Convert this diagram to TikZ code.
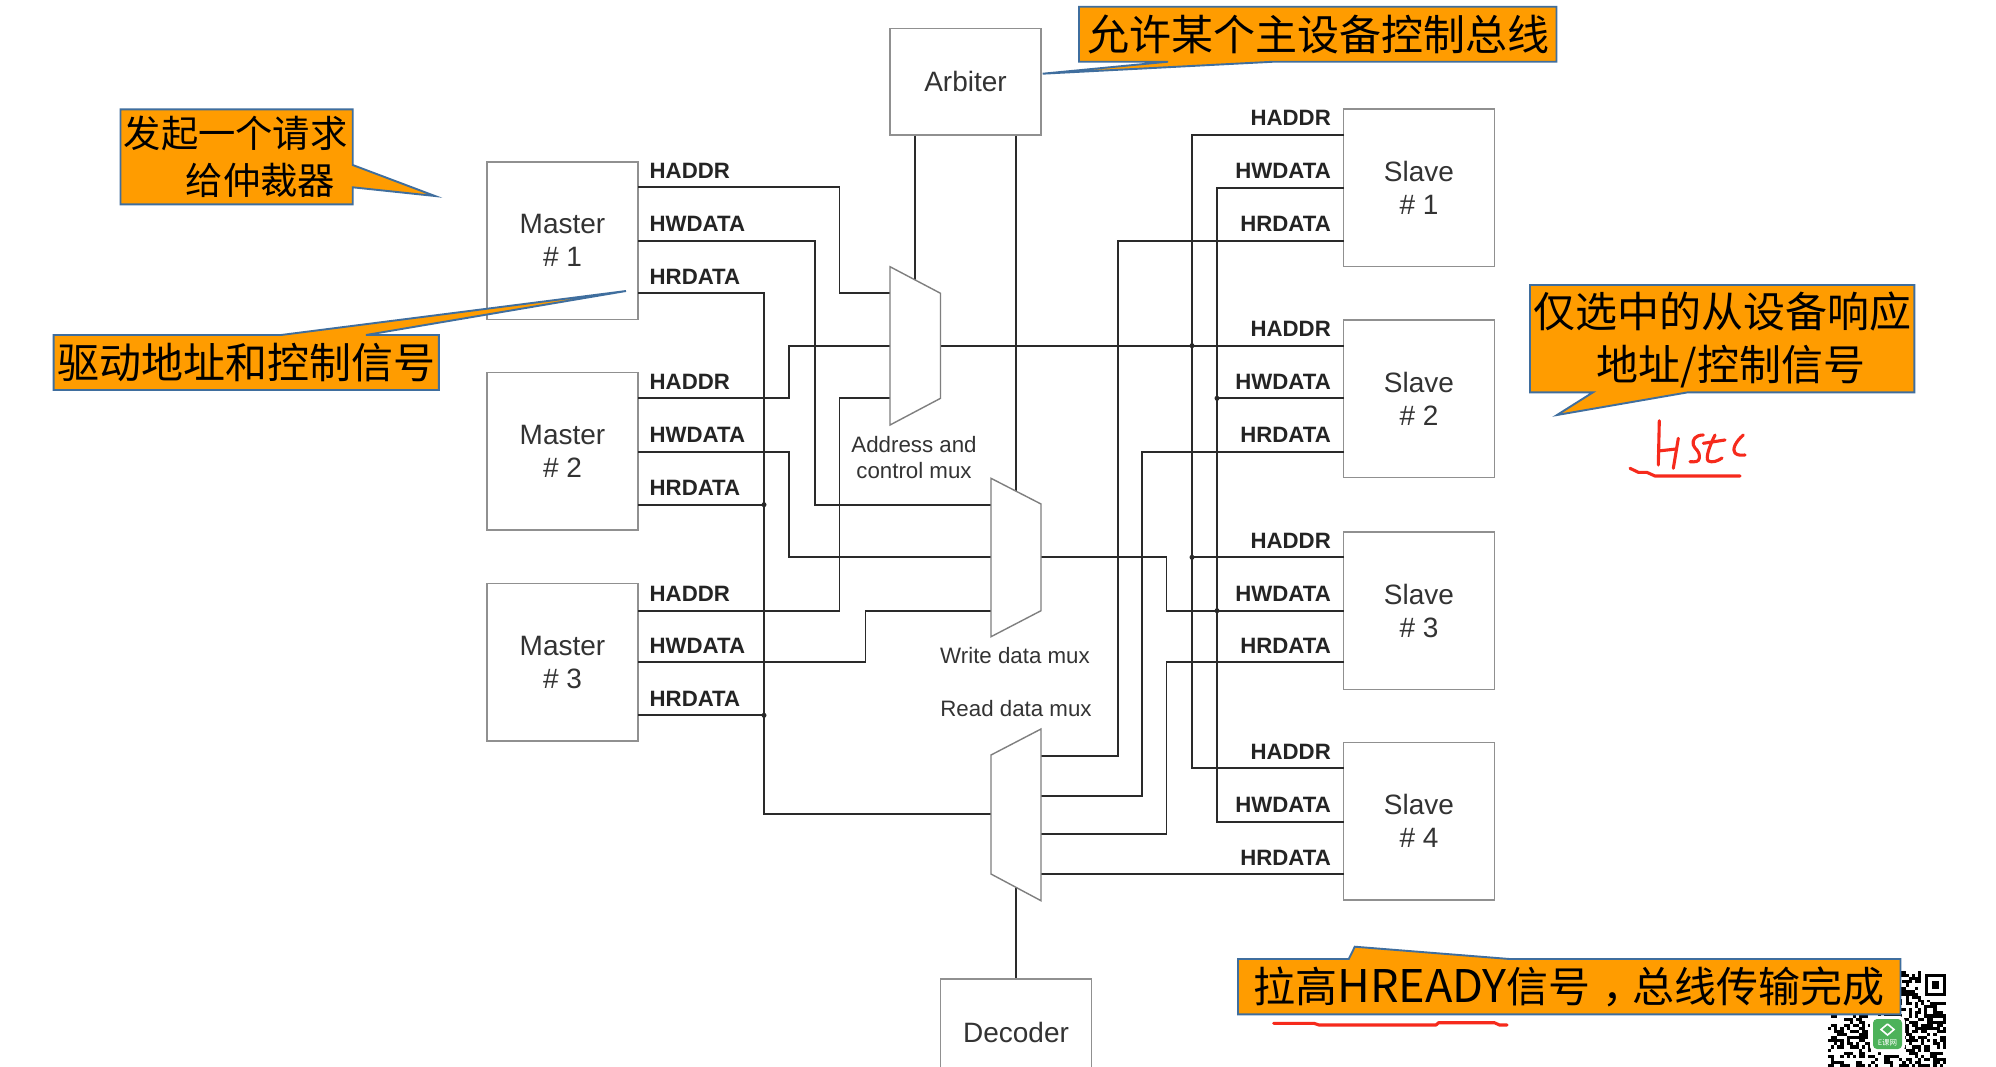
\documentclass[tikz,border=0pt]{standalone}
\usepackage{fontspec}
\setmainfont{Liberation Sans}
\newfontfamily\cjk{Noto Sans CJK SC}
\definecolor{boxgray}{HTML}{909090}
\definecolor{wirecol}{HTML}{2A2A2A}
\definecolor{muxgray}{HTML}{7F7F7F}
\definecolor{txtgray}{HTML}{333333}
\definecolor{calloutfill}{HTML}{FF9C00}
\definecolor{calloutline}{HTML}{3F6E9E}
\definecolor{inkred}{HTML}{F62A1C}
\definecolor{logogreen}{HTML}{4DB25A}
\tikzset{
  unitbox/.style={draw=boxgray,line width=1.6pt,fill=white,inner sep=0pt,align=center,text=txtgray,
    font=\fontsize{28}{33}\selectfont},
  masterbox/.style={unitbox,minimum width=151pt,minimum height=157.6pt},
  wire/.style={draw=wirecol,line width=1.7pt},
  muxshape/.style={draw=muxgray,line width=1.4pt,fill=white,line join=miter},
  sig/.style={inner sep=0pt,font=\fontsize{22.2}{24}\selectfont\bfseries,text=txtgray!70!black},
  siglabl/.style={sig,anchor=base west},
  siglabr/.style={sig,anchor=base east},
  muxtext/.style={inner sep=0pt,anchor=base,font=\fontsize{22.3}{26}\selectfont,text=txtgray},
  junction/.style={circle,fill=wirecol,inner sep=0pt,minimum size=5pt},
  calloutshape/.style={draw=calloutline,line width=1.9pt,fill=calloutfill,line join=miter},
  callouttext/.style={inner sep=0pt,align=left,text=black},
  ink/.style={draw=inkred,line width=3.1pt,line cap=round,line join=round},
}
\begin{document}
\begin{tikzpicture}[x=1pt,y=-1pt]
\useasboundingbox (0,0) rectangle (1996,1066);
\fill[white] (0,0) rectangle (1996,1066);
\begin{scope}
\clip (0,0) rectangle (1996,1066);

% QR code, under the last callout
\pgfmathsetseed{7}
\foreach \i in {0,...,37}{
  \foreach \j in {0,...,30}{
    \pgfmathtruncatemacro\qrbit{rnd*2}
    \ifnum\qrbit=1
      \fill[black] ({1828+\i*3.1},{971+\j*3.1}) rectangle +(3.1,3.1);
    \fi
  }
}
\fill[white] (1921,970) rectangle (1947,1000);
\fill[black] (1925,974) rectangle (1946,996);
\fill[white] (1928,977) rectangle (1943,993);
\fill[black] (1931.7,980.7) rectangle (1939.3,988.7);
\fill[white,rounded corners=5pt] (1870,1016) rectangle (1905,1052);
\fill[logogreen,rounded corners=4pt] (1873,1019) rectangle (1902,1049);
\draw[white,line width=1.6pt] (1887.5,1024) -- (1894,1029.5) -- (1887.5,1035) -- (1881,1029.5) -- (1887.5,1024);
\node (logotext) at (1887.5,1042.5) [inner sep=0pt,text=white,font=\cjk\fontsize{7.5}{8}\selectfont] {E课网};

% Boxes
\node[masterbox] (m1) at (562.5,240.5) {Master\\\# 1};
\node[masterbox] (m2) at (562.5,451.2) {Master\\\# 2};
\node[masterbox] (m3) at (562.5,662.4) {Master\\\# 3};
\node[masterbox] (s1) at (1419,187.5) {Slave\\\# 1};
\node[masterbox] (s2) at (1419,398.8) {Slave\\\# 2};
\node[masterbox] (s3) at (1419,610.8) {Slave\\\# 3};
\node[masterbox] (s4) at (1419,821.2) {Slave\\\# 4};
\node[unitbox,minimum width=151pt,minimum height=106.4pt] (arb) at (965.5,81.5) {Arbiter};
\node[unitbox,minimum width=151pt,minimum height=106pt] (dec) at (1016,1032) {Decoder};

% Ports
\coordinate (m1a) at (638,187.3);  \coordinate (m1w) at (638,240.7);  \coordinate (m1r) at (638,293.3);
\coordinate (m2a) at (638,398.3);  \coordinate (m2w) at (638,451.7);  \coordinate (m2r) at (638,504.7);
\coordinate (m3a) at (638,610.7);  \coordinate (m3w) at (638,662.3);  \coordinate (m3r) at (638,715.3);
\coordinate (s1a) at (1344,134.7); \coordinate (s1w) at (1344,187.7); \coordinate (s1r) at (1344,240.7);
\coordinate (s2a) at (1344,345.7); \coordinate (s2w) at (1344,398.3); \coordinate (s2r) at (1344,451.7);
\coordinate (s3a) at (1344,557.3); \coordinate (s3w) at (1344,610.7); \coordinate (s3r) at (1344,662.3);
\coordinate (s4a) at (1344,768.3); \coordinate (s4w) at (1344,821.7); \coordinate (s4r) at (1344,874);
\coordinate (ax1) at (892,293.3);  \coordinate (ax2) at (892,345.7);  \coordinate (ax3) at (892,398.3);
\coordinate (axo) at (940,345.7);
\coordinate (wx1) at (993,504.7);  \coordinate (wx2) at (993,557.3);  \coordinate (wx3) at (993,610.7);
\coordinate (wxo) at (1040,557.3);
\coordinate (rx)  at (993,814);
\coordinate (ro1) at (1040,755.7); \coordinate (ro2) at (1040,795.7);
\coordinate (ro3) at (1040,834.3); \coordinate (ro4) at (1040,874);
\coordinate (arbsel) at (914.7,290);
\coordinate (arbwr)  at (1016,500);
\coordinate (decsel) at (1016,870);

% Vertical runs
\coordinate (vRD)  at (764,0);
\coordinate (vW2)  at (789,0);
\coordinate (vW1)  at (815,0);
\coordinate (vA1)  at (839.5,0);
\coordinate (vW3)  at (865.4,0);
\coordinate (vS1)  at (1118,0);
\coordinate (vS2)  at (1142,0);
\coordinate (vS3)  at (1166.4,0);
\coordinate (vHA)  at (1192,0);
\coordinate (vHW)  at (1217,0);

% Wires
\draw[wire] (m1a) -- (m1a -| vA1) -- (ax1 -| vA1) -- (ax1);
\draw[wire] (m2a) -- (m2a -| vW2) -- (ax2 -| vW2) -- (ax2);
\draw[wire] (m3a) -- (m3a -| vA1) -- (ax3 -| vA1) -- (ax3);
\draw[wire] (m1w) -- (m1w -| vW1) -- (wx1 -| vW1) -- (wx1);
\draw[wire] (m2w) -- (m2w -| vW2) -- (wx2 -| vW2) -- (wx2);
\draw[wire] (m3w) -- (m3w -| vW3) -- (wx3 -| vW3) -- (wx3);
\draw[wire] (m1r) -- (m1r -| vRD) -- (rx -| vRD) -- (rx);
\draw[wire] (m2r) -- (m2r -| vRD);
\draw[wire] (m3r) -- (m3r -| vRD);
\draw[wire] (axo) -- (s2a);
\draw[wire] (s1a) -- (s1a -| vHA) -- (s4a -| vHA) -- (s4a);
\draw[wire] (s3a) -- (s3a -| vHA);
\draw[wire] (s1w) -- (s1w -| vHW) -- (s4w -| vHW) -- (s4w);
\draw[wire] (s2w) -- (s2w -| vHW);
\draw[wire] (wxo) -- (wxo -| vS3) -- (s3w -| vS3) -- (s3w);
\draw[wire] (s1r) -- (s1r -| vS1) -- (ro1 -| vS1) -- (ro1);
\draw[wire] (s2r) -- (s2r -| vS2) -- (ro2 -| vS2) -- (ro2);
\draw[wire] (s3r) -- (s3r -| vS3) -- (ro3 -| vS3) -- (ro3);
\draw[wire] (s4r) -- (ro4);
\draw[wire] (arb.south -| arbsel) -- (arbsel);
\draw[wire] (arb.south -| arbwr) -- (arbwr);
\draw[wire] (decsel) -- (dec.north);

% Junctions
\node[junction] (j1) at (m2r -| vRD) {};
\node[junction] (j2) at (m3r -| vRD) {};
\node[junction] (j3) at (s2a -| vHA) {};
\node[junction] (j4) at (s3a -| vHA) {};
\node[junction] (j5) at (s2w -| vHW) {};
\node[junction] (j6) at (s3w -| vHW) {};

% Multiplexers
\draw[muxshape] (890,266.7) -- (940.5,293.3) -- (940.5,398.3) -- (890,425) -- cycle;
\draw[muxshape] (991,478.3) -- (1041,504) -- (1041,610.7) -- (991,636.7) -- cycle;
\draw[muxshape] (991,755) -- (1041,729) -- (1041,900.7) -- (991,874) -- cycle;

% Mux captions
\node[muxtext] (t1) at (914,452.7) {Address and};
\node[muxtext] (t2) at (914,478) {control mux};
\node[muxtext] (t3) at (1015,663) {Write data mux};
\node[muxtext] (t4) at (1016,716) {Read data mux};

% Signal labels, masters
\foreach \n/\y/\t in {a1/187.3/HADDR,a2/240.7/HWDATA,a3/293.3/HRDATA,
                      b1/398.3/HADDR,b2/451.7/HWDATA,b3/504.7/HRDATA,
                      c1/610.7/HADDR,c2/662.3/HWDATA,c3/715.3/HRDATA}{
  \node[siglabl] (lab\n) at (649.5,\y-9) {\t};
}
% Signal labels, slaves
\foreach \n/\y/\t in {d1/134.7/HADDR,d2/187.7/HWDATA,d3/240.7/HRDATA,
                      e1/345.7/HADDR,e2/398.3/HWDATA,e3/451.7/HRDATA,
                      f1/557.3/HADDR,f2/610.7/HWDATA,f3/662.3/HRDATA,
                      g1/768.3/HADDR,g2/821.7/HWDATA,g3/874/HRDATA}{
  \node[siglabr] (lab\n) at (1331,\y-9) {\t};
}

% Callouts
\draw[calloutshape] (120.5,109.3) -- (352.7,109.3) -- (352.7,165) -- (435,196) -- (352.7,187.3) -- (352.7,204.3) -- (120.5,204.3) -- cycle;
\node[callouttext,anchor=west,font=\cjk\fontsize{37.3}{47}\selectfont] (c1) at (123.5,156.5) {发起一个请求\\\hspace*{62pt}给仲裁器};

\draw[calloutshape] (53.6,335) -- (281,335) -- (626,291) -- (366,335) -- (438.8,335) -- (438.8,390) -- (53.6,390) -- cycle;
\node[callouttext,anchor=center,font=\cjk\fontsize{42}{50}\selectfont] (c2) at (246,362.5) {驱动地址和控制信号};

\draw[calloutshape] (1079,6.7) -- (1556.5,6.7) -- (1556.5,61.7) -- (1274,61.7) -- (1042.7,73.7) -- (1168,61.7) -- (1079,61.7) -- cycle;
\node[callouttext,anchor=center,font=\cjk\fontsize{42}{50}\selectfont] (c3) at (1318,34.2) {允许某个主设备控制总线};

\draw[calloutshape] (1530,285) -- (1914.3,285) -- (1914.3,392.3) -- (1688,392.3) -- (1557,415) -- (1593,392.3) -- (1530,392.3) -- cycle;
\node[callouttext,anchor=center,align=center,font=\cjk\fontsize{42}{53}\selectfont] (c4) at (1722,340) {仅选中的从设备响应\\\hspace*{18pt}地址/控制信号};

\draw[calloutshape] (1238,959) -- (1348.7,959) -- (1354.8,946.7) -- (1509.6,959) -- (1900.5,959) -- (1900.5,1014.3) -- (1238,1014.3) -- cycle;
\node[callouttext,anchor=center,font=\cjk\fontsize{42}{50}\selectfont] (c5) at (1569,986.6) {拉高{\fontsize{45}{50}\selectfont HREADY}信号\hspace*{12pt}，\hspace*{-12pt}总线传输完成};

% Handwritten marks
\draw[ink] (1273.6,1023.3) -- (1314,1023.3) -- (1319,1025) -- (1436,1025) -- (1438.6,1022.7) -- (1494.4,1022.7) -- (1499.5,1025) -- (1507,1025);
\draw[ink] (1659.3,420.7) -- (1658.3,465);
\draw[ink] (1658.3,451) -- (1676,449);
\draw[ink] (1678.3,438.3) -- (1673.3,468.3);
\draw[ink] (1703.3,435) .. controls (1695,435) and (1692,440) .. (1693.3,445) .. controls (1695,450) and (1700,450) .. (1699.3,458) .. controls (1699,462) and (1695,462) .. (1690,461.7);
\draw[ink] (1703.3,443.3) -- (1725,440);
\draw[ink] (1715,435) .. controls (1710,445) and (1705,458) .. (1708.3,461) .. controls (1712,463) and (1718,461) .. (1722,458);
\draw[ink] (1743.3,435) .. controls (1735,442) and (1732,450) .. (1735,453) .. controls (1738,456) and (1742,455) .. (1745,455);
\draw[ink] (1630,468.3) -- (1638.3,472.3) -- (1646.7,472.3) -- (1655,476) -- (1740,476);
\end{scope}
\end{tikzpicture}
\end{document}
